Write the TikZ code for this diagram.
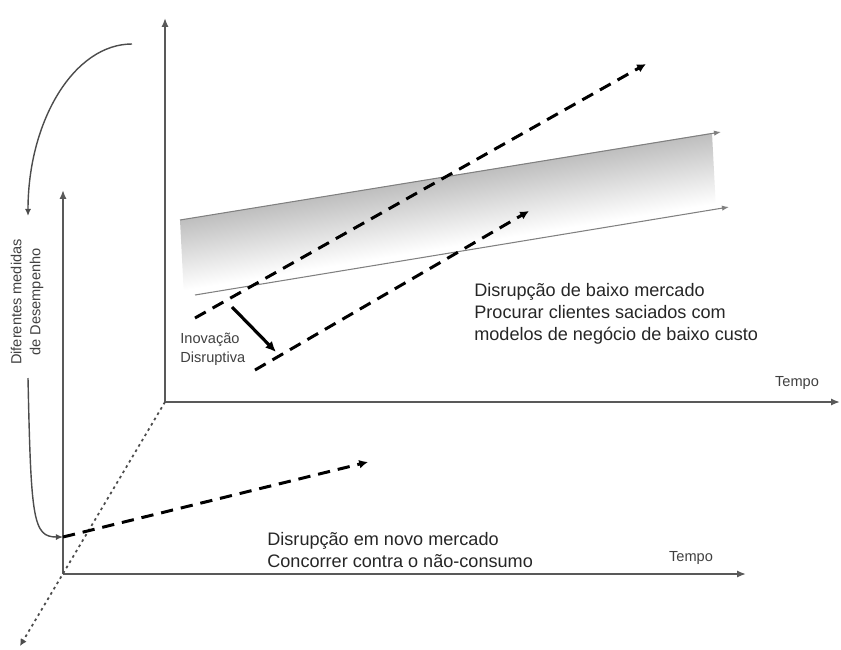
\documentclass[tikz,border=0pt]{standalone}
\usepackage{fontspec}
\setmainfont{Liberation Sans}
\usetikzlibrary{arrows.meta,positioning,calc}

\begin{document}
\begin{tikzpicture}[
  x=0.02cm, y=-0.02cm,
  axis/.style={draw=black!65, line width=1.1pt, -{Latex[length=5pt,width=4pt]}},
  trend/.style={draw=black!50, line width=0.6pt, -{Latex[length=4pt,width=3pt]}},
  disrupt/.style={draw=black, line width=1.7pt, dash pattern=on 7pt off 4.5pt,
                  -{Latex[length=5pt,width=5pt]}},
  curvearrow/.style={draw=black!70, line width=0.8pt, -{Latex[length=4pt,width=3.5pt]}},
  lbl/.style={font=\fontsize{10.3}{12.5}\selectfont, align=left, inner sep=0pt, text=black!85},
  small/.style={font=\fontsize{8.3}{10.8}\selectfont, align=left, inner sep=0pt, text=black!75}
]
  \useasboundingbox (0,0) rectangle (841,649);

  \coordinate (back0) at (165,402);
  \coordinate (backY) at (165,18);
  \coordinate (backX) at (840,402);
  \coordinate (front0) at (63,574);
  \coordinate (frontY) at (63,190);
  \coordinate (frontX) at (746,574);
  \coordinate (depth) at (20,646);

  % band of performance demanded
  \begin{scope}
    \clip (180,220) -- (712,133) -- (716,209) -- (184,297) -- cycle;
    \begin{scope}[transform canvas={rotate around={9.26:(180,220)}}]
      \shade[top color=black!26, bottom color=white] (120,218) rectangle (760,290);
    \end{scope}
  \end{scope}
  \coordinate (upA) at (180,220);
  \coordinate (upB) at (721,132);
  \coordinate (loA) at (195,295);
  \coordinate (loB) at (729,207);
  \draw[trend] (upA) -- (upB);
  \draw[trend] (loA) -- (loB);

  \draw[axis] (back0) -- (backY);
  \draw[axis] (back0) -- (backX);
  \draw[axis] (front0) -- (frontY);
  \draw[axis] (front0) -- (frontX);
  \draw[draw=black!70, line width=1pt, dash pattern=on 1.5pt off 2pt,
        -{Latex[length=4pt,width=4pt]}] (back0) -- (depth);

  \coordinate (upS) at (195,318);
  \coordinate (upE) at (646,64);
  \coordinate (loS) at (255,370);
  \coordinate (loE) at (529,211);
  \draw[disrupt] (upS) -- (upE);
  \draw[disrupt] (loS) -- (loE);

  \coordinate (jumpS) at (232,307);
  \coordinate (jumpE) at (276,352);
  \draw[line width=1.8pt, -{Latex[length=6pt,width=5.5pt]}] (jumpS) -- (jumpE);

  \coordinate (arcS) at (132,44);
  \coordinate (arcE) at (28,216);
  \draw[curvearrow] (arcS) .. controls (74,44) and (28,121) .. (arcE);
  \coordinate (hookS) at (28,378);
  \coordinate (hookE) at (63,537);
  \draw[curvearrow] (hookS) .. controls (31,520) and (33,537) .. (hookE);
  \coordinate (newE) at (368,462);
  \draw[disrupt] (hookE) -- (newE);

  \node[small, rotate=90, align=center] (measures) at (27,302)
    {Diferentes medidas\\de Desempenho};
  \node[lbl, anchor=west] (lowend) at (474,314)
    {Disrupção de baixo mercado\\Procurar clientes saciados com\\modelos de negócio de baixo custo};
  \node[small, anchor=west] (innov) at (180,349) {Inovação\\Disruptiva};
  \node[small] (time1) at (797,383) {Tempo};
  \node[lbl, anchor=west] (newmkt) at (267,550)
    {Disrupção em novo mercado\\Concorrer contra o não-consumo};
  \node[small] (time2) at (691,558) {Tempo};
\end{tikzpicture}
\end{document}
